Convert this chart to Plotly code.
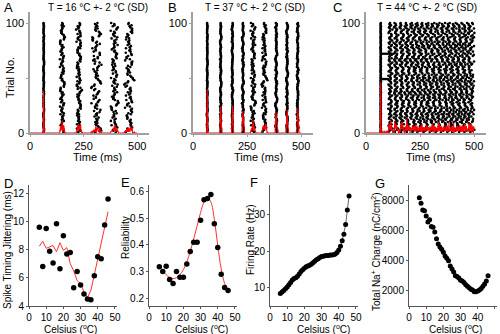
import numpy as np
import plotly.graph_objects as go

W, H = 500, 334
N_TRIALS = 100
FONT = "Arial, Liberation Sans, sans-serif"

# ---------------- raster data ----------------
# hand-entered slow wobble of spike timing across trials (units of the burst width)
WOBBLE = [0.1, 0.4, 0.7, 0.9, 0.6, 0.2, -0.3, -0.7, -0.9, -0.6, -0.2, 0.3, 0.8, 1.0, 0.5,
          0.0, -0.4, -0.8, -1.0, -0.5, 0.1, 0.5, 0.2, -0.2, -0.6, -0.3, 0.2, 0.6, 0.9, 0.4,
          -0.1, -0.5, -0.9, -0.7, -0.2, 0.3, 0.7, 0.5, 0.0, -0.4, -0.8, -0.5, 0.0, 0.4, 0.8,
          0.6, 0.1, -0.3, -0.6, -0.9, -0.4, 0.2, 0.5, 0.9, 0.7, 0.3, -0.1, -0.6, -0.3, 0.0]
# hand-entered trial-to-trial scatter
SCATTER = [0.3, -0.8, 0.5, -0.2, 0.9, -0.6, 0.1, -0.9, 0.7, -0.4, 0.2, 0.8, -0.1, -0.7, 0.6,
           -0.3, 0.4, -0.5, 1.0, -1.0, 0.0, 0.5, -0.6, 0.3, -0.2, 0.8, -0.9, 0.1, 0.6, -0.4,
           0.45, -0.15, 0.75, -0.55, 0.05, -0.85, 0.35, 0.95, -0.35, 0.15, -0.65, 0.55, -0.05]

# A: 16 degC, burst centres (ms), wobble and scatter amplitudes (ms)
a_centres = [64, 150, 228, 310, 394, 462]
a_wobble = [0.8, 4, 5, 8, 8, 9]
a_scatter = [1.3, 9, 10, 17, 15, 17]

# B: 37 degC
b_centres = [66, 128, 182, 231, 278, 330, 385, 435, 484]
b_wobble = [0.8, 1.6, 2, 2.2, 5, 5, 2.2, 2.2, 2.2]
b_scatter = [1.1, 2, 2, 2.5, 10, 10, 2.8, 2.8, 3]

# C: 44 degC, onset spike followed by tonic firing
c_onset = 68
c_tonic_start = 104
c_period = 26.5
c_period_var = 2.6
c_phase_var = 16
c_row_trials = [72, 49]
c_row_end = [135, 104]

# ---------------- summary data ----------------
temp_pts = [6, 8, 10, 12, 14, 16, 18, 20, 22, 24, 26, 28, 30, 32, 34, 36, 38, 40, 42, 44, 46]
jitter_ms = [9.6, 6.8, 9.5, 7.9, 7.05, 9.85, 6.65, 9.0, 7.7, 7.8, 5.3, 6.45, 5.5, 4.85,
             4.5, 4.45, 6.15, 7.5, 7.35, 9.75, 11.6]
jitter_trend = [8.25, 8.6, 8.1, 8.2, 8.3, 7.85, 8.5, 7.95, 8.15, 7.0, 6.5, 5.8, 5.6, 5.0,
                4.6, 5.1, 6.2, 7.4, 8.3, 9.5, 10.7]
reliability = [0.318, 0.30, 0.32, 0.27, 0.255, 0.30, 0.278, 0.278, 0.328, 0.375, 0.41,
               0.41, 0.493, 0.57, 0.575, 0.59, 0.48, 0.39, 0.29, 0.24, 0.228]
reliability_fit = [0.318, 0.303, 0.288, 0.277, 0.273, 0.277, 0.288, 0.307, 0.336, 0.376,
                   0.423, 0.472, 0.522, 0.562, 0.578, 0.562, 0.497, 0.398, 0.31, 0.255, 0.228]

temp_fine = list(range(6, 47))
firing_rate = [8.4, 8.8, 9.2, 9.7, 10.2, 10.8, 11.4, 12.1, 12.5, 12.7, 13.1, 13.7, 14.4,
               14.9, 15.3, 15.7, 15.9, 16.1, 16.4, 16.8, 17.2, 17.6, 17.9, 18.2, 18.5, 18.6,
               18.7, 18.8, 18.8, 18.9, 18.9, 19.0, 19.2, 19.6, 20.3, 21.3, 22.8, 24.6, 27.2,
               31.2, 35.0]
na_charge = [8150, 7800, 7350, 7300, 6950, 6550, 6700, 6250, 6200, 5900, 5450, 5100, 4900,
             4750, 4550, 4300, 4150, 4000, 3650, 3450, 3250, 3000, 2950, 2850, 2700, 2650,
             2550, 2400, 2300, 2200, 2100, 2050, 1950, 1950, 2000, 2050, 2150, 2300, 2450,
             2650, 3000]


def burst_raster(centres, wob, scat):
    times, trials = [], []
    for k in range(1, N_TRIALS + 1):
        for j, (c, w, s) in enumerate(zip(centres, wob, scat)):
            t = (c + w * WOBBLE[(k + 17 * j) % len(WOBBLE)]
                 + s * SCATTER[(7 * k + 11 * j) % len(SCATTER)])
            times.append(t)
            trials.append(k)
    return np.array(times), np.array(trials)


def tonic_raster():
    times, trials = [], []
    for k in range(1, N_TRIALS + 1):
        times.append(c_onset + 1.2 * SCATTER[k % len(SCATTER)])
        trials.append(k)
        if k in c_row_trials:
            end = c_row_end[c_row_trials.index(k)]
            t = c_onset + 6
            while t < end:
                times.append(t)
                trials.append(k)
                t += 9.0
            start = end + 10
        else:
            start = c_tonic_start + c_phase_var * (WOBBLE[(2 * k + 5) % len(WOBBLE)] + 1) / 2
        period = c_period + c_period_var * WOBBLE[(k // 2) % len(WOBBLE)]
        n = 0
        t = start
        while t < 500:
            times.append(t + 3.0 * SCATTER[(k + 5 * n) % len(SCATTER)])
            trials.append(k)
            n += 1
            t += period
    return np.array(times), np.array(trials)


rasters = [burst_raster(a_centres, a_wobble, a_scatter),
           burst_raster(b_centres, b_wobble, b_scatter),
           tonic_raster()]
titles = ["T = 16 \u00b0C +- 2 \u00b0C (SD)", "T = 37 \u00b0C +- 2 \u00b0C (SD)",
          "T = 44 \u00b0C +- 2 \u00b0C (SD)"]


def px_x(px):
    return px / W


def px_y(py):
    return 1 - py / H


fig = go.Figure()

# panel geometry in pixels
raster_x = [(30, 149), (193, 313), (366, 486)]
raster_y = (12, 133)
low_x = [(29, 117), (149, 237), (270, 358), (409, 497)]
low_y = (185, 306)

bins = np.arange(0, 501, 1)
for i, (times, trials) in enumerate(rasters):
    n = i + 1
    xa = "x" if n == 1 else f"x{n}"
    ya = "y" if n == 1 else f"y{n}"
    fig.add_trace(go.Scatter(x=times, y=trials, mode="markers", xaxis=xa, yaxis=ya,
                             marker=dict(size=2.6, color="black"), showlegend=False))
    counts, edges = np.histogram(times, bins=bins)
    fig.add_trace(go.Scatter(x=edges[:-1] + 0.5, y=counts, mode="lines", xaxis=xa, yaxis=ya,
                             line=dict(color="#ff0000", width=1.1), showlegend=False))

# D
fig.add_trace(go.Scatter(x=temp_pts, y=jitter_trend, mode="lines", xaxis="x4", yaxis="y4",
                         line=dict(color="#ff3030", width=1), showlegend=False))
fig.add_trace(go.Scatter(x=temp_pts, y=jitter_ms, mode="markers", xaxis="x4", yaxis="y4",
                         marker=dict(size=5.5, color="black"), showlegend=False))
# E
fig.add_trace(go.Scatter(x=temp_pts, y=reliability_fit, mode="lines", xaxis="x5", yaxis="y5",
                         line=dict(color="#ff3030", width=1, shape="spline"), showlegend=False))
fig.add_trace(go.Scatter(x=temp_pts, y=reliability, mode="markers", xaxis="x5", yaxis="y5",
                         marker=dict(size=5.5, color="black"), showlegend=False))
# F
fig.add_trace(go.Scatter(x=temp_fine, y=firing_rate, mode="lines+markers", xaxis="x6", yaxis="y6",
                         line=dict(color="#444444", width=0.8),
                         marker=dict(size=5, color="black"), showlegend=False))
# G
fig.add_trace(go.Scatter(x=temp_fine, y=na_charge, mode="markers", xaxis="x7", yaxis="y7",
                         marker=dict(size=5, color="black"), showlegend=False))

axis_common = dict(showline=True, ticks="outside", showgrid=False, zeroline=False,
                   automargin=False)

layout = dict(width=W, height=H, margin=dict(l=0, r=0, t=0, b=0),
              plot_bgcolor="white", paper_bgcolor="white", showlegend=False)

raster_line = "#a0a0a0"
raster_font = dict(family=FONT, size=11, color="black")
for i, (x0, x1) in enumerate(raster_x):
    n = i + 1
    xk = "xaxis" if n == 1 else f"xaxis{n}"
    yk = "yaxis" if n == 1 else f"yaxis{n}"
    yref = "y" if n == 1 else f"y{n}"
    xref = "x" if n == 1 else f"x{n}"
    layout[xk] = dict(axis_common, domain=[px_x(x0), px_x(x1)], range=[0, 555], anchor=yref,
                      tickvals=[0, 250, 500], linecolor=raster_line, tickcolor=raster_line,
                      linewidth=1.5, ticklen=2, tickfont=raster_font)
    layout[yk] = dict(axis_common, domain=[px_y(raster_y[1]), px_y(raster_y[0])], range=[0, 110],
                      anchor=xref, tickvals=[0, 50, 100], ticktext=["0", "", "100"],
                      linecolor=raster_line, tickcolor=raster_line, linewidth=1.5,
                      ticklen=2, tickfont=raster_font)

low_ranges = [([0, 51.2], [4, 12.6], [4, 6, 8, 10, 12]),
              ([0, 51.2], [0.17, 0.626], [0.2, 0.3, 0.4, 0.5, 0.6]),
              ([0, 51.2], [5, 38], [10, 20, 30]),
              ([0, 51.2], [1000, 9000], [2000, 4000, 6000, 8000])]
low_line = "#555555"
low_font = dict(family=FONT, size=10, color="black")
for i, (x0, x1) in enumerate(low_x):
    n = i + 4
    xr, yr, yt = low_ranges[i]
    layout[f"xaxis{n}"] = dict(axis_common, domain=[px_x(x0), px_x(x1)], range=xr, anchor=f"y{n}",
                               tickvals=[0, 10, 20, 30, 40, 50], linecolor=low_line,
                               tickcolor=low_line, linewidth=1, ticklen=2, tickfont=low_font)
    layout[f"yaxis{n}"] = dict(axis_common, domain=[px_y(low_y[1]), px_y(low_y[0])], range=yr,
                               anchor=f"x{n}", tickvals=yt, linecolor=low_line,
                               tickcolor=low_line, linewidth=1, ticklen=2, tickfont=low_font)

layout["yaxis5"].update(tickformat=".1f")

fig.update_layout(**layout)


def label(text, x, y, size=11, angle=0, xanchor="center"):
    fig.add_annotation(text=text, x=px_x(x), y=px_y(y), xref="paper", yref="paper",
                       showarrow=False, textangle=angle, xanchor=xanchor, yanchor="middle",
                       font=dict(family=FONT, size=size, color="black"))


# panel letters
for txt, x, y in [("A", 2, 8), ("B", 166, 8), ("C", 331, 8),
                  ("D", 2, 183), ("E", 119, 182), ("F", 248, 182), ("G", 373, 183)]:
    label(txt, x, y, size=13, xanchor="left")

# raster titles and axis titles
for cx, t in zip([98, 255, 427], titles):
    label(t, cx, 8, size=10)
for cx in [97, 258, 430]:
    label("Time (ms)", cx, 157, size=11)
label("Trial No.", 10, 78, size=11, angle=-90)

# lower panel axis titles
for cx in [70, 201, 323, 455]:
    label("Celsius (<sup>o</sup>C)", cx, 328.5, size=10)
label("Spike Timing Jittering (ms)", 7, 250, size=10, angle=-90)
label("Reliability", 126, 238, size=10, angle=-90)
label("Firing Rate (Hz)", 250, 240, size=10, angle=-90)
label("Total Na<sup>+</sup> Charge (nC/cm<sup>2</sup>)", 376, 252, size=10, angle=-90)

fig.write_html("out.html")
